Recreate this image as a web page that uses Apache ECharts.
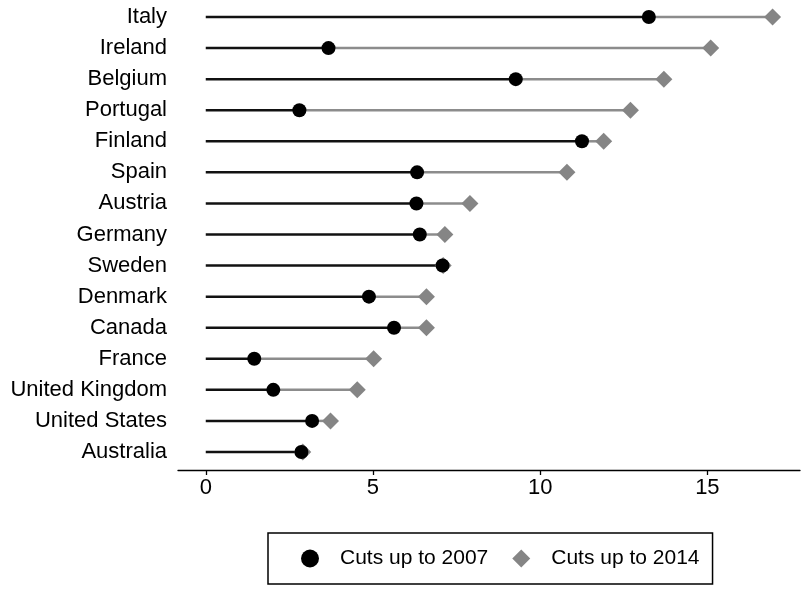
<!DOCTYPE html>
<html>
<head>
<meta charset="utf-8">
<script src="https://cdn.jsdelivr.net/npm/echarts@6/dist/echarts.min.js"></script>
<style>
html, body { margin: 0; padding: 0; background: #fff; }
#chart { width: 810px; height: 593px; }
</style>
</head>
<body>
<div id="chart"></div>
<script>
var countries = ["Italy", "Ireland", "Belgium", "Portugal", "Finland", "Spain", "Austria", "Germany",
    "Sweden", "Denmark", "Canada", "France", "United Kingdom", "United States", "Australia"];
var cuts2007 = [13.25, 3.67, 9.27, 2.8, 11.25, 6.32, 6.3, 6.4, 7.08, 4.88, 5.63, 1.45, 2.02, 3.18, 2.86];
var cuts2014 = [16.95, 15.1, 13.7, 12.7, 11.9, 10.8, 7.9, 7.15, 7.1, 6.6, 6.6, 5.02, 4.53, 3.73, 2.9];
var xTicks = [0, 5, 10, 15];

var gap = cuts2014.map(function (v, i) { return +(v - cuts2007[i]).toFixed(2); });
var dots = cuts2007.map(function (v, i) { return [v, countries[i]]; });
var diamonds = cuts2014.map(function (v, i) { return [v, countries[i]]; });

var font = "'Liberation Sans', Arial, Helvetica, sans-serif";

var option = {
    animation: false,
    textStyle: { fontFamily: font },
    grid: { left: 178, right: 10, top: 1.5, height: 466 },
    legend: {
        data: ["Cuts up to 2007", "Cuts up to 2014"],
        left: 268,
        top: 533,
        orient: "horizontal",
        borderColor: "#000",
        borderWidth: 1.5,
        padding: [15, 13, 15, 33],
        itemWidth: 18,
        itemHeight: 18,
        itemGap: 24,
        textStyle: { fontSize: 21, color: "#000", fontFamily: font, padding: [0, 0, 0, 16] }
    },
    xAxis: {
        type: "value",
        min: -0.83,
        max: 17.77,
        offset: 2.5,
        splitLine: { show: false },
        axisLine: { show: true, lineStyle: { color: "#000", width: 1.3 } },
        axisTick: { show: true, customValues: xTicks, length: 5, lineStyle: { color: "#000", width: 1.3 } },
        axisLabel: { customValues: xTicks, fontSize: 22, color: "#000", margin: 7, fontFamily: font }
    },
    yAxis: {
        type: "category",
        inverse: true,
        data: countries,
        axisLine: { show: false },
        axisTick: { show: false },
        axisLabel: { fontSize: 22, color: "#000", margin: 11, fontFamily: font }
    },
    series: [
        {
            name: "base",
            type: "bar",
            stack: "cut",
            barWidth: 2.5,
            data: cuts2007,
            itemStyle: { color: "#111" },
            silent: true
        },
        {
            name: "extra",
            type: "bar",
            stack: "cut",
            barWidth: 2.5,
            data: gap,
            itemStyle: { color: "#8c8c8c" },
            silent: true
        },
        {
            name: "Cuts up to 2014",
            type: "scatter",
            symbol: "diamond",
            symbolSize: 17,
            data: diamonds,
            itemStyle: { color: "#858585", opacity: 1 },
            z: 3
        },
        {
            name: "Cuts up to 2007",
            type: "scatter",
            symbol: "circle",
            symbolSize: 14,
            data: dots,
            itemStyle: { color: "#000", opacity: 1 },
            z: 4
        }
    ]
};

var chart = echarts.init(document.getElementById("chart"));
chart.setOption(option);
</script>
</body>
</html>
